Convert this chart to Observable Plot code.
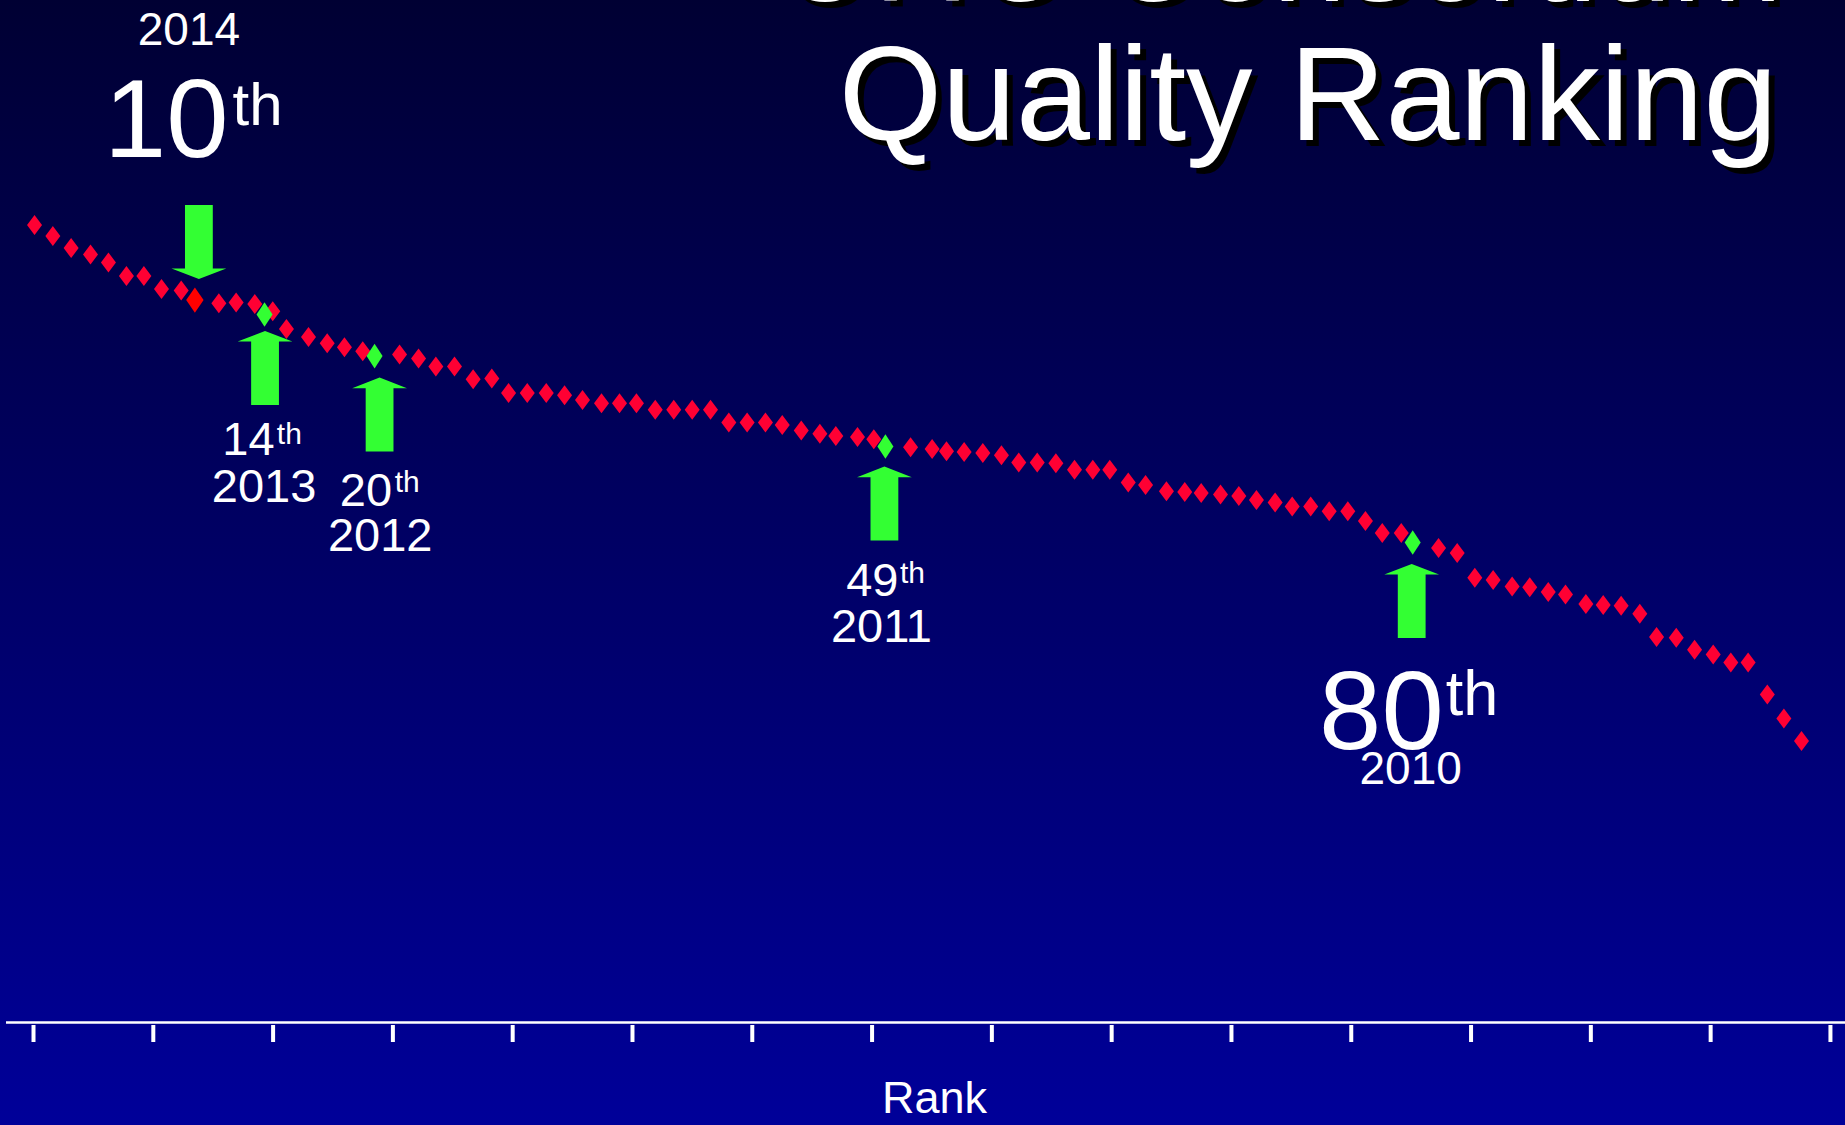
<!DOCTYPE html>
<html>
<head>
<meta charset="utf-8">
<script src="https://cdn.jsdelivr.net/npm/d3@7"></script>
<script src="https://cdn.jsdelivr.net/npm/@observablehq/plot@0.6"></script>
<style>
html, body { margin: 0; padding: 0; width: 1845px; height: 1125px; overflow: hidden;
  background: linear-gradient(to bottom, #000033 0%, #000066 50%, #000099 100%); }
#chart { position: absolute; left: 0; top: 0; }
#chart svg { background: transparent; overflow: visible; }
</style>
</head>
<body>
<div id="chart"></div>
<script>
// ---- data ----
const redX = [0.06,1.13,2.20,3.33,4.38,5.43,6.45,7.48,8.63,
  10.83,11.84,12.93,13.98,14.78,16.07,17.16,18.17,19.24,
  21.39,22.50,23.51,24.60,25.69,26.78,27.76,28.85,29.96,31.03,32.08,33.19,34.24,35.23,36.33,37.41,38.49,39.56,40.63,41.70,42.77,43.75,44.86,45.95,46.88,48.15,49.10,
  51.25,52.51,53.35,54.38,55.47,56.56,57.57,58.65,59.74,60.83,61.90,62.89,63.97,64.98,66.20,67.27,68.23,69.36,70.43,71.46,72.55,73.55,74.63,75.71,76.80,77.83,78.81,79.92,
  82.10,83.19,84.22,85.29,86.40,87.43,88.51,89.52,90.71,91.72,92.77,93.86,94.84,95.99,97.06,98.15,99.18,100.19,101.31,102.28,103.31];
const redY = [99.7,98.3,96.8,96.0,95.0,93.3,93.3,91.7,91.5,
  89.9,90.0,89.8,88.9,86.7,85.7,84.9,84.4,83.9,
  83.5,83.0,82.0,82.0,80.4,80.5,78.7,78.7,78.7,78.4,77.8,77.4,77.4,77.4,76.6,76.6,76.6,76.6,75.0,75.0,75.0,74.7,74.0,73.6,73.3,73.2,72.9,
  71.9,71.7,71.4,71.3,71.2,70.9,70.0,70.0,69.9,69.1,69.1,69.1,67.5,67.2,66.4,66.3,66.2,66.0,65.8,65.3,65.0,64.5,64.5,63.9,63.9,62.7,61.2,61.2,
  59.3,58.7,55.6,55.3,54.5,54.4,53.8,53.5,52.3,52.2,52.1,51.1,48.2,48.1,46.6,46.0,45.0,45.0,41.0,38.0,35.2];

const milestoneYear = [2014, 2013, 2012, 2011, 2010];
const milestoneRank = [10, 14, 20, 49, 80];
const milestoneX = [9.43, 13.50, 19.93, 49.78, 80.59];
const milestoneY = [90.3, 88.5, 83.3, 72.0, 60.0];

const xTicks = [0, 7, 14, 21, 28, 35, 42, 49, 56, 63, 70, 77, 84, 91, 98, 105];
const titleLines = ["UHC Consortium", "Quality Ranking"];
const axisLabel = "Rank";
const suffix = "th";

// ---- derived tables ----
const reds = redX.map((x, i) => ({x, y: redY[i]}));
const milestones = milestoneYear.map((year, i) => ({year, rank: milestoneRank[i], x: milestoneX[i], y: milestoneY[i]}));
const current = milestones.filter(d => d.year === 2014);
const past = milestones.filter(d => d.year !== 2014);

// ---- styles ----
const FONT = "'Liberation Sans', Arial, Helvetica, sans-serif";
const RED = "#ff0033", HIRED = "#ff0000", GREEN = "#33ff33";

function diamond(hw, hh) {
  return {draw(ctx) { ctx.moveTo(0, -hh); ctx.lineTo(hw, 0); ctx.lineTo(0, hh); ctx.lineTo(-hw, 0); ctx.closePath(); }};
}
function blockArrow(dir) { // dir 1: points up (tip at origin), -1: points down
  const hw = 27.4, hh = 10.7, sw = 13.9, len = 74;
  return {draw(ctx) {
    ctx.moveTo(0, 0); ctx.lineTo(hw, dir * hh); ctx.lineTo(sw, dir * hh); ctx.lineTo(sw, dir * len);
    ctx.lineTo(-sw, dir * len); ctx.lineTo(-sw, dir * hh); ctx.lineTo(-hw, dir * hh); ctx.closePath();
  }};
}

function labelMarks(year, c) {
  const data = milestones.filter(d => d.year === year);
  const common = {x: "x", y: "y", fill: "white", fontFamily: FONT, lineAnchor: "bottom"};
  return [
    Plot.dot(data, {x: "x", y: "y", symbol: blockArrow(c.dir), fill: GREEN, stroke: "none", dx: c.ax, dy: c.ay}),
    Plot.text(data, {...common, text: d => String(d.rank), textAnchor: "end", fontSize: c.ns, dx: c.nx, dy: c.ny}),
    Plot.text(data, {...common, text: () => suffix, textAnchor: "start", fontSize: c.ss, dx: c.sx, dy: c.sy}),
    Plot.text(data, {...common, text: d => String(d.year), textAnchor: "middle", fontSize: c.ys, dx: c.yx, dy: c.yy})
  ];
}

const titleCommon = {frameAnchor: "top-right", textAnchor: "end", lineAnchor: "bottom", fontFamily: FONT, fontSize: 133};

const chart = Plot.plot({
  width: 1845,
  height: 1125,
  marginTop: 0,
  marginRight: 0,
  marginBottom: 103,
  marginLeft: 6,
  style: {background: "transparent", color: "white", overflow: "visible"},
  x: {domain: [-1.578, 105.88]},
  y: {domain: [0, 127.75], axis: null},
  marks: [
    // axis line and ticks
    Plot.ruleY([0], {stroke: "white", strokeWidth: 2.6}),
    Plot.axisX(xTicks, {tickSize: 17, stroke: "white", strokeWidth: 4, fill: "none", label: null, dy: 3}),
    Plot.text([axisLabel], {frameAnchor: "bottom", lineAnchor: "bottom", fontFamily: FONT, fontSize: 45, fill: "white", dx: 8.5, dy: 90}),
    // title (with drop shadow); the first line is cut off by the top edge as in the slide
    Plot.text([titleLines[0]], {...titleCommon, fill: "black", dx: -57, dy: 6}),
    Plot.text([titleLines[0]], {...titleCommon, fill: "white", dx: -63, dy: 0}),
    Plot.text([titleLines[1]], {...titleCommon, fill: "black", dx: -62, dy: 145}),
    Plot.text([titleLines[1]], {...titleCommon, fill: "white", dx: -68, dy: 139}),
    // arrows + labels
    ...labelMarks(2014, {dir: -1, ax: 4, ay: -21, ns: 112, nx: 33.7, ny: -142.7, ss: 60, sx: 37.7, sy: -175, ys: 46, yx: -6, yy: -255}),
    ...labelMarks(2013, {dir: 1, ax: 0.5, ay: 16.4, ns: 47, nx: 10, ny: 140.7, ss: 30, sx: 12.3, sy: 129, ys: 47, yx: -0.5, yy: 187.4}),
    ...labelMarks(2012, {dir: 1, ax: 5, ay: 21.4, ns: 47, nx: 17.5, ny: 149.7, ss: 30, sx: 20.2, sy: 135.4, ys: 47, yx: 5.6, yy: 194.7}),
    ...labelMarks(2011, {dir: 1, ax: -1, ay: 20, ns: 47, nx: 13, ny: 149.3, ss: 30, sx: 14.5, sy: 136, ys: 47, yx: -4, yy: 195}),
    ...labelMarks(2010, {dir: 1, ax: -1, ay: 21.4, ns: 112, nx: 31, ny: 206, ss: 63, sx: 33, sy: 172.7, ys: 46, yx: -2, yy: 241.7}),
    // data points
    Plot.dot(reds, {x: "x", y: "y", symbol: diamond(7.5, 10), fill: RED, stroke: "none"}),
    Plot.dot(current, {x: "x", y: "y", symbol: diamond(8.7, 12.7), fill: HIRED, stroke: "none"}),
    Plot.dot(past, {x: "x", y: "y", symbol: diamond(8, 12.3), fill: GREEN, stroke: "none"})
  ]
});
document.getElementById("chart").appendChild(chart);
</script>
</body>
</html>
